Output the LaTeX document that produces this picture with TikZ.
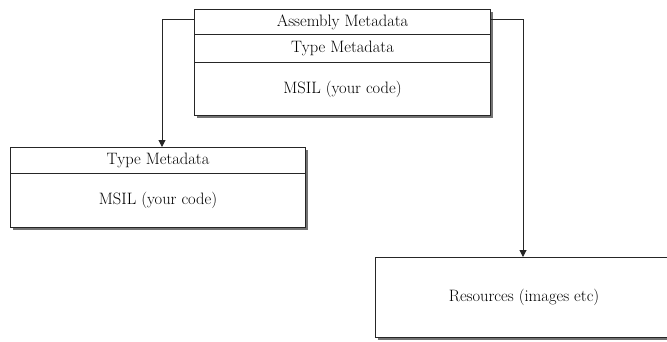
\documentclass[tikz,border=0pt]{standalone}
\usepackage{tikz}
\usetikzlibrary{arrows.meta,shadows}
\begin{document}
\begin{tikzpicture}[x=1pt,y=-1pt,
  cell/.style={draw=black!85, line width=1.1pt, fill=white, inner sep=0pt, anchor=north west,
    font=\fontsize{16.5}{19}\selectfont, text=black},
  shade/.style={fill=black!55},
  link/.style={draw=black!85, line width=1pt, -{Triangle[length=7pt,width=7pt]}}]
\useasboundingbox (0,0) rectangle (667,341);
\clip (0,0) rectangle (667,341);

% drop shadows behind the boxes
\fill[shade] (197,12) rectangle (493,118);
\fill[shade] (13,150) rectangle (308,230);
\fill[shade] (378,260) rectangle (675,340);

% assembly with manifest
\node[cell, minimum width=296pt, minimum height=25pt] (asm) at (194,9) {Assembly Metadata};
\node[cell, minimum width=296pt, minimum height=28pt] (tmd) at (194,34) {Type Metadata};
\node[cell, minimum width=296pt, minimum height=53pt] (msil) at (194,62) {MSIL (your code)};

% module
\node[cell, minimum width=295pt, minimum height=26pt] (mtmd) at (10,147) {Type Metadata};
\node[cell, minimum width=295pt, minimum height=54pt] (mmsil) at (10,173) {MSIL (your code)};

% resource file
\node[cell, minimum width=297pt, minimum height=80pt] (res) at (375,257) {Resources (images etc)};

% connectors
\coordinate (lt) at (162,19);
\coordinate (rt) at (523,19);
\draw[link] (asm.west |- lt) -- (lt) -- (lt |- mtmd.north);
\draw[link] (asm.east |- rt) -- (rt) -- (rt |- res.north);
\end{tikzpicture}
\end{document}
